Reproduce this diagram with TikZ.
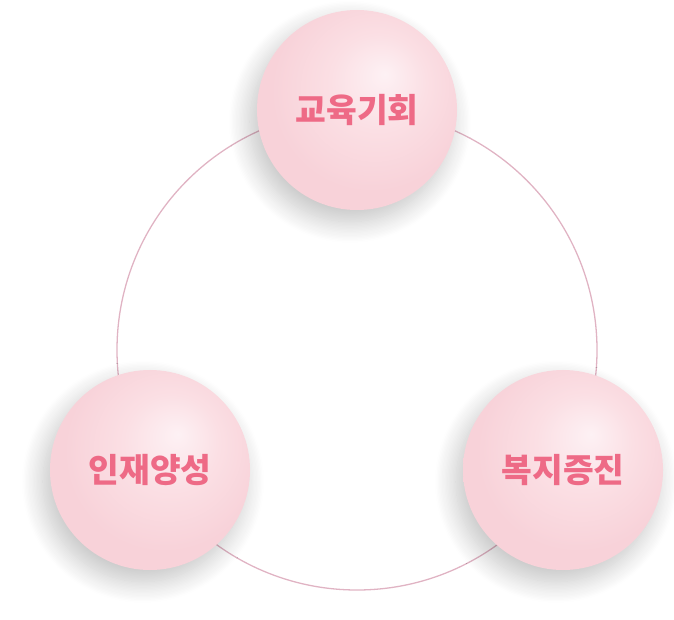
\documentclass[tikz,border=0pt]{standalone}
\usepackage{fontspec}
\newfontfamily\krfont{Noto Sans CJK KR}
\usetikzlibrary{shadows.blur}
\definecolor{ringpink}{HTML}{E0B3C3}
\definecolor{labelpink}{HTML}{EE6A86}
\definecolor{ballhi}{HTML}{FDF1F4}
\definecolor{ballmid}{HTML}{FBDFE4}
\definecolor{balllo}{HTML}{F8D2D9}
\pgfdeclareradialshading{pinkball}{\pgfpoint{7bp}{9bp}}{color(0bp)=(ballhi); color(12bp)=(ballmid); color(25bp)=(balllo); color(50bp)=(balllo)}
\tikzset{
  ring/.style={draw=ringpink, line width=1.1pt},
  ball/.style={circle, minimum size=6cm, inner sep=0pt, shade, shading=pinkball,
    blur shadow={shadow xshift=-6pt, shadow yshift=-10pt, shadow blur radius=18pt, shadow blur steps=16, shadow opacity=24},
    font=\krfont\bfseries\fontsize{28.5}{32}\selectfont, text=labelpink},
}
\begin{document}
\begin{tikzpicture}[x=0.03cm, y=-0.03cm]
        \useasboundingbox (0,0) rectangle (674,620);
        \coordinate (hub) at (357,350);
        \draw[ring] (hub) circle [radius=240];
        \node[ball] (edu) at (357,110) {교육기회};
        \node[ball] (talent) at (150,470) {인재양성};
        \node[ball] (welfare) at (563,470) {복지증진};
    \end{tikzpicture}
\end{document}
